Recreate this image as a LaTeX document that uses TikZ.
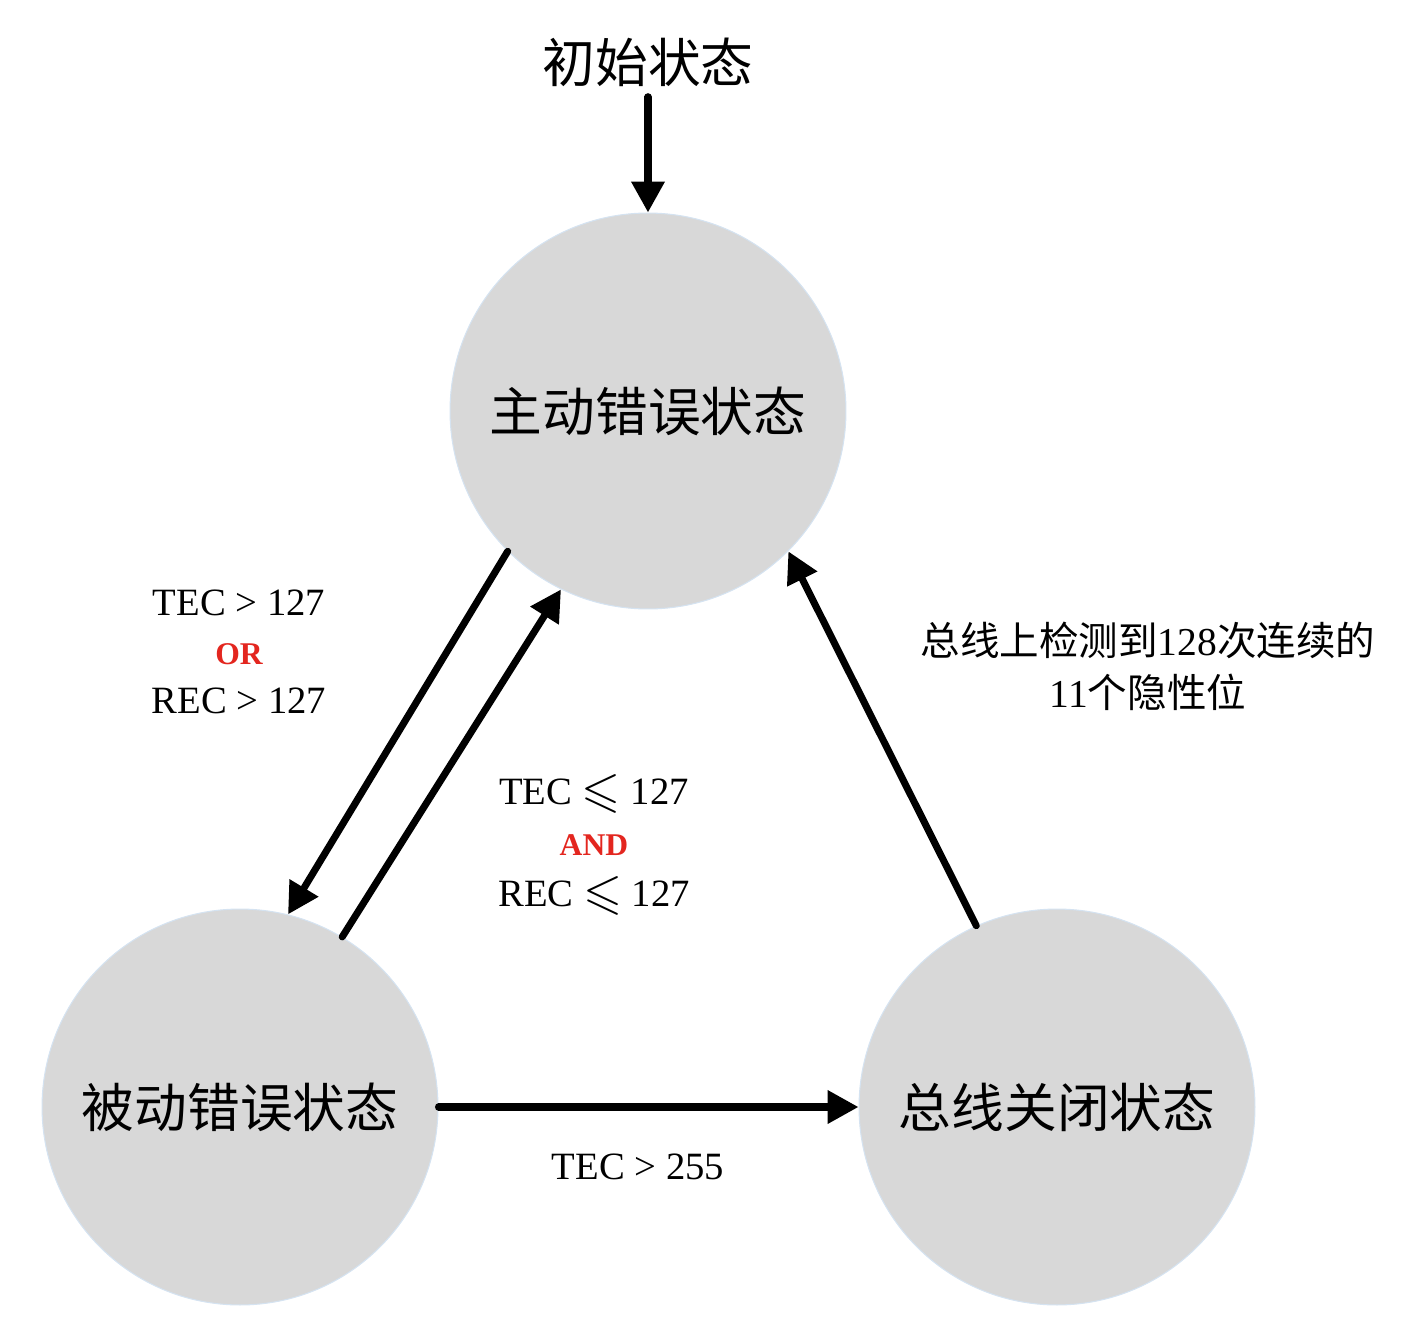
\documentclass[tikz,border=0pt]{standalone}
\usepackage{fontspec}
\setmainfont{Liberation Serif}
\newfontfamily\cjk{Noto Sans CJK SC}
\usepackage{amssymb}
\usetikzlibrary{arrows.meta}
\definecolor{stategray}{HTML}{D8D8D8}
\definecolor{stateedge}{HTML}{D5E3F1}
\definecolor{condred}{HTML}{E3261F}
\tikzset{
  state/.style={circle, fill=stategray, draw=stateedge, line width=0.6pt,
    minimum size=7.92cm, inner sep=0pt, font=\cjk\fontsize{30}{36}\selectfont},
  trans/.style={line width=4pt, line cap=round, -{Triangle[length=0.62cm,width=0.64cm]}},
  cond/.style={align=center, font=\fontsize{22}{28}\selectfont},
}
\newcommand{\condop}[1]{{\fontsize{18}{28}\selectfont\bfseries\color{condred}#1}}
\newcommand{\leqs}{\raisebox{-0.1ex}{\scalebox{1.3}{$\leqslant$}}}
\begin{document}
\begin{tikzpicture}[x=0.02cm,y=-0.02cm]
\useasboundingbox (0,0) rectangle (1406,1328);
% states
\node[font=\cjk\fontsize{30}{36}\selectfont, inner sep=0.2cm] (init) at (648,62) {初始状态};
\node[state] (active) at (648,411) {主动错误状态};
\node[state] (passive) at (240,1107) {被动错误状态};
\node[state] (busoff) at (1057,1107) {总线关闭状态};

% transitions
\draw[trans] (init.south) -- (active.north);
\draw[trans] (active.225) -- (passive.76);
\draw[trans] (passive.59) -- (active.244);
\draw[trans] (busoff.114) -- (active.315);
\draw[trans] (passive.east) -- (busoff.west);

% conditions
\node[cond] (cond-or) at (239,652) {TEC > 127\\ \condop{OR}\\ REC > 127};
\node[cond, font=\fontsize{22}{29}\selectfont] (cond-and) at (594,845)
  {TEC \leqs{} 127\\ \condop{AND}\\ REC \leqs{} 127};
\node[cond, font=\fontsize{22.5}{29.5}\selectfont] (cond-rec) at (1148,666)
  {{\cjk 总线上检测到}128{\cjk 次连续的}\\ 11{\cjk 个隐性位}};
\node[cond] (cond-off) at (638,1167) {TEC > 255};
\end{tikzpicture}
\end{document}
